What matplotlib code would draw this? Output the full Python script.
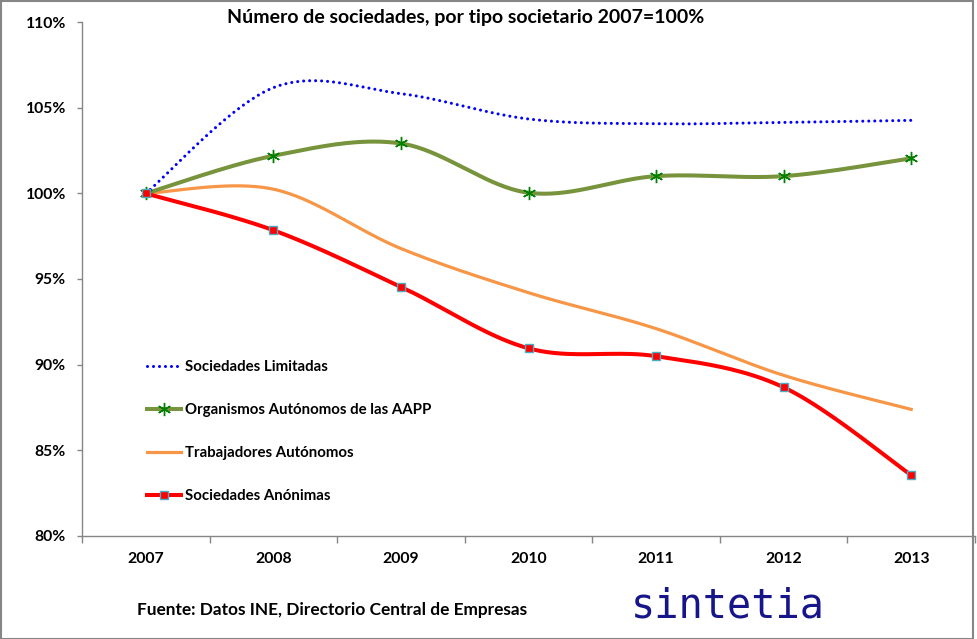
import numpy as np
import matplotlib
matplotlib.use("Agg")
import matplotlib.pyplot as plt
from matplotlib.patches import Rectangle
from matplotlib.lines import Line2D

years = ["2007", "2008", "2009", "2010", "2011", "2012", "2013"]
limitadas = [100.0, 106.18, 105.83, 104.35, 104.07, 104.15, 104.27]
organismos = [100.0, 102.2, 102.92, 100.04, 101.01, 101.01, 102.05]
trabajadores = [100.0, 100.25, 96.78, 94.2, 92.1, 89.37, 87.38]
anonimas = [100.0, 97.85, 94.54, 90.95, 90.49, 88.67, 83.54]

y_ticks = [80, 85, 90, 95, 100, 105, 110]

plt.rcParams['font.family'] = ['Lato', 'DejaVu Sans']
plt.rcParams['font.weight'] = 'bold'


def smooth(xs, ys, n=40):
    # excel style smoothed line: catmull-rom turned into cubic bezier pieces
    px = np.asarray(xs, dtype=float)
    py = np.asarray(ys, dtype=float)
    px = np.concatenate([[px[0]], px, [px[-1]]])
    py = np.concatenate([[py[0]], py, [py[-1]]])
    out_x, out_y = [], []
    t = np.linspace(0, 1, n)
    for i in range(1, len(px) - 2):
        x0, x1, x2, x3 = px[i - 1], px[i], px[i + 1], px[i + 2]
        y0, y1, y2, y3 = py[i - 1], py[i], py[i + 1], py[i + 2]
        c1x, c1y = x1 + (x2 - x0) / 6, y1 + (y2 - y0) / 6
        c2x, c2y = x2 - (x3 - x1) / 6, y2 - (y3 - y1) / 6
        b0, b1, b2, b3 = (1 - t) ** 3, 3 * t * (1 - t) ** 2, 3 * t ** 2 * (1 - t), t ** 3
        out_x.extend(b0 * x1 + b1 * c1x + b2 * c2x + b3 * x2)
        out_y.extend(b0 * y1 + b1 * c1y + b2 * c2y + b3 * y2)
    return np.array(out_x), np.array(out_y)


fig = plt.figure(figsize=(9.78, 6.39), dpi=100)
ax = fig.add_axes([82 / 978, 103.3 / 639, (975 - 82) / 978, (535.7 - 22.3) / 639])

x = np.arange(len(years))
grey = "#868686"

blue_style = dict(color="#0000ff", lw=2.2, ls=(0, (0.01, 1.95)), dash_capstyle="round")
green_style = dict(color="#77933c", lw=2.9)
green_mark = dict(marker=(6, 2, 0), ms=9.5, mec="#008000", mew=1.0)
orange_style = dict(color="#f79646", lw=2.3)
red_style = dict(color="#ff0000", lw=2.9)
red_mark = dict(marker="s", ms=5.4, mfc="#ff0000", mec="#4bacc6", mew=1.0)

# orange
sx, sy = smooth(x, trabajadores)
ax.plot(sx, sy, zorder=2, **orange_style)

# green with asterisk markers
sx, sy = smooth(x, organismos)
ax.plot(sx, sy, zorder=3, **green_style)
ax.plot(x, organismos, ls="none", zorder=4, **green_mark)

# blue dotted
sx, sy = smooth(x, limitadas)
ax.plot(sx, sy, zorder=5, **blue_style)

# red with squares
sx, sy = smooth(x, anonimas)
ax.plot(sx, sy, zorder=6, **red_style)
ax.plot(x, anonimas, ls="none", zorder=7, **red_mark)

ax.set_xlim(-0.5, len(years) - 0.5)
ax.set_ylim(80, 110)
ax.set_yticks(y_ticks)
ax.set_yticklabels([f"{v}%" for v in y_ticks], fontsize=11.3, fontweight="bold")
ax.set_xticks(x)
ax.set_xticklabels(years, fontsize=11.3, fontweight="bold")
ax.set_xticks(np.arange(-0.5, len(years), 1), minor=True)
ax.tick_params(axis="x", which="major", length=0, pad=12)
ax.tick_params(axis="x", which="minor", length=5, color=grey, width=1)
ax.tick_params(axis="y", length=3.6, color=grey, width=1, pad=8)

for s in ["top", "right"]:
    ax.spines[s].set_visible(False)
for s in ["left", "bottom"]:
    ax.spines[s].set_color(grey)
    ax.spines[s].set_linewidth(1)

handles = [
    Line2D([], [], **blue_style),
    Line2D([], [], **green_style, **green_mark),
    Line2D([], [], **orange_style),
    Line2D([], [], **red_style, **red_mark),
]
labels = ["Sociedades Limitadas", "Organismos Autónomos de las AAPP",
          "Trabajadores Autónomos", "Sociedades Anónimas"]
ax.legend(handles, labels, loc="upper left", bbox_to_anchor=(147 / 978, 1 - 360 / 639),
          bbox_transform=fig.transFigure, frameon=False,
          handlelength=2.3, handletextpad=0.25, labelspacing=1.93, borderpad=0, borderaxespad=0,
          prop={"weight": "bold", "size": 10.8})

fig.text(466 / 978, 1 - 18 / 639, "Número de sociedades, por tipo societario 2007=100%",
         ha="center", va="center", fontsize=14, fontweight="bold")
fig.text(137 / 978, 1 - 610 / 639, "Fuente: Datos INE, Directorio Central de Empresas",
         ha="left", va="center", fontsize=12.4, fontweight="bold")
fig.text(631 / 978, 1 - 618 / 639, "sintetia", ha="left", va="baseline",
         fontsize=29, family="DejaVu Sans Mono", fontweight="normal", color="#16168a")

fig.patches.append(Rectangle((0.5 / 978, 0.5 / 639), 972.5 / 978, 637.5 / 639,
                             transform=fig.transFigure, fill=False, edgecolor=grey, lw=1.5))

fig.savefig("out.png", dpi=100)
